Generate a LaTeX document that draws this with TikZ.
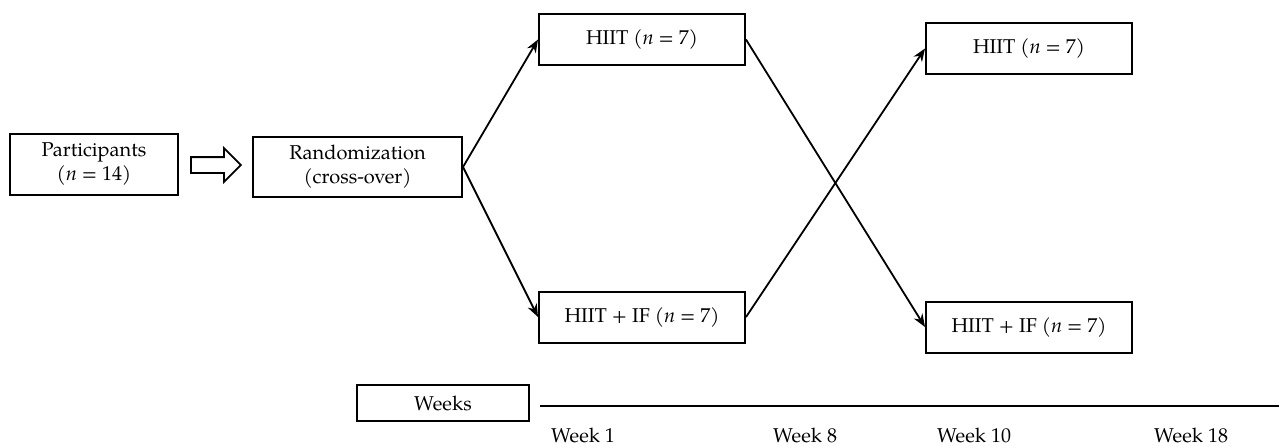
\documentclass[tikz,border=0pt]{standalone}
\usepackage{fontspec}
\setmainfont{TeX Gyre Pagella}
\usetikzlibrary{arrows.meta,shapes.arrows}
\begin{document}
\begin{tikzpicture}[x=0.5pt,y=-0.5pt,
  box/.style={draw,line width=1pt,inner sep=0pt,align=center,font=\fontsize{10pt}{12pt}\selectfont},
  conn/.style={line width=0.9pt,-{Stealth[length=6.5pt,width=5pt]}},
  lbl/.style={anchor=base,font=\fontsize{10pt}{12pt}\selectfont}]
\useasboundingbox (0,0) rectangle (1279,446);
\node[box,minimum width=84pt,minimum height=30.5pt] (P) at (94,164.5) {Participants\\(\textit{n} = 14)};
\node[box,minimum width=104.5pt,minimum height=30pt] (R) at (357.5,167) {Randomization\\(cross-over)};
\node[single arrow,draw,line width=0.9pt,inner sep=0pt,inner ysep=3.5pt,text height=0pt,text depth=0pt,
  single arrow head extend=4.5pt,single arrow head indent=0pt,minimum height=25pt,shape border rotate=0] (A) at (212,165) {};
\node[box,minimum width=103pt,minimum height=25.5pt] (H1) at (642,39.5) {HIIT (\textit{n} = 7)};
\node[box,minimum width=103pt,minimum height=25.5pt] (F1) at (642,317) {HIIT + IF (\textit{n} = 7)};
\node[box,minimum width=103pt,minimum height=25.5pt] (H2) at (1029,48.5) {HIIT (\textit{n} = 7)};
\node[box,minimum width=103pt,minimum height=25.5pt] (F2) at (1029,327) {HIIT + IF (\textit{n} = 7)};
\node[box,minimum width=86pt,minimum height=18pt] (W) at (443,403) {Weeks};
\draw[conn] (R.east) -- (H1.west);
\draw[conn] (R.east) -- (F1.west);
\draw[conn] (H1.east) -- (F2.west);
\draw[conn] (F1.east) -- (H2.west);
\coordinate (L0) at (540,406);
\coordinate (L1) at (1279,406);
\draw[line width=1pt] (L0) -- (L1);
\node[lbl] (w1) at (583,442) {Week 1};
\node[lbl] (w8) at (805,442) {Week 8};
\node[lbl] (w10) at (974,442) {Week 10};
\node[lbl] (w18) at (1191,442) {Week 18};
\end{tikzpicture}
\end{document}
